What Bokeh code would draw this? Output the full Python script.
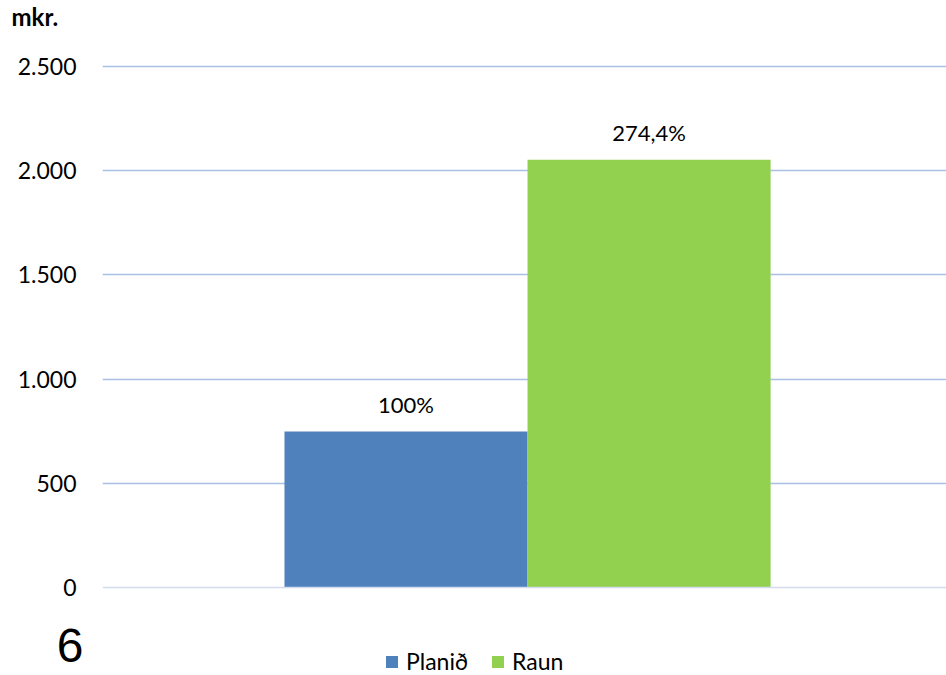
from bokeh.plotting import figure
from bokeh.models import (FactorRange, Range1d, FixedTicker, Legend, LegendItem,
                          Label, ColumnDataSource, Span, LinearAxis)
from bokeh.transform import dodge
from bokeh.embed import file_html
from bokeh.resources import INLINE
from bokeh.core.properties import value

categories = ["6"]
series = ["Planið", "Raun"]
plan_values = [748]
raun_values = [2052]
plan_labels = ["100%"]
raun_labels = ["274,4%"]
y_ticks = [0, 500, 1000, 1500, 2000, 2500]
y_tick_labels = ["0", "500", "1.000", "1.500", "2.000", "2.500"]
unit_label = "mkr."

colors = ["#4F81BD", "#92D050"]
FONT = "Lato"

TOP = 40                      # frame top in canvas px (below the "mkr." panel)
px_per_unit = (587 - 66) / 2500
y_lo = -(675 - 587) / px_per_unit
y_hi = 2500 + (66 - TOP) / px_per_unit
cat_label_y = -(645 - 587) / px_per_unit   # vertical place of the category label

src = ColumnDataSource(dict(cat=categories, plan=plan_values, raun=raun_values,
                            plan_lbl=plan_labels, raun_lbl=raun_labels))

p = figure(width=946, height=675, x_range=FactorRange(factors=categories, range_padding=0),
           y_range=Range1d(y_lo, y_hi), output_backend="svg", toolbar_location=None,
           min_border_left=102, min_border_right=0, min_border_top=TOP, min_border_bottom=0)
p.outline_line_color = None
p.xgrid.grid_line_color = None
p.xaxis.visible = False

ya = p.yaxis[0]
ya.ticker = FixedTicker(ticks=y_ticks)
ya.major_label_overrides = {t: l for t, l in zip(y_ticks, y_tick_labels)}
ya.axis_line_color = None
ya.major_tick_line_color = None
ya.minor_tick_line_color = None
ya.major_tick_out = 0
ya.major_tick_in = 0
ya.minor_tick_out = 0
ya.major_label_standoff = 26
ya.major_label_text_font = FONT
ya.major_label_text_font_size = "23px"
ya.major_label_text_color = "#000000"

cat_axis = LinearAxis(ticker=FixedTicker(ticks=[cat_label_y]),
                      major_label_overrides={cat_label_y: categories[0]},
                      axis_line_color=None, major_tick_line_color=None,
                      minor_tick_line_color=None, major_tick_out=0, major_tick_in=0,
                      minor_tick_out=0, major_label_standoff=-69,
                      major_label_text_font="Liberation Sans",
                      major_label_text_font_size="48px", major_label_text_color="#000000")
p.add_layout(cat_axis, "left")

p.ygrid.ticker = FixedTicker(ticks=y_ticks[1:])
p.ygrid.grid_line_color = "#A9BFE3"
p.ygrid.grid_line_width = 1.3

p.add_layout(Span(location=0, dimension="width", line_color="#D3DBEE", line_width=1.6))

w = 0.288
offs = [-w / 2 + 0.0036, w / 2 + 0.0036]
r1 = p.vbar(x=dodge("cat", offs[0], range=p.x_range), top="plan", width=w, source=src,
            fill_color=colors[0], line_color=None)
r2 = p.vbar(x=dodge("cat", offs[1], range=p.x_range), top="raun", width=w, source=src,
            fill_color=colors[1], line_color=None)

for col, lbl, off in [("plan", "plan_lbl", offs[0]), ("raun", "raun_lbl", offs[1])]:
    p.text(x=dodge("cat", off, range=p.x_range), y=col, text=lbl, source=src,
           text_align="center", text_baseline="middle", y_offset=-27,
           text_font=value(FONT), text_font_size="22px", text_color="#000000")

p.add_layout(Label(x=-91, y=24, x_units="screen", y_units="screen", text=unit_label,
                   text_font=FONT, text_font_style="bold", text_font_size="24px",
                   text_baseline="alphabetic", text_color="#000000"), "above")

legend = Legend(items=[LegendItem(label=series[0], renderers=[r1]),
                       LegendItem(label=series[1], renderers=[r2])],
                orientation="horizontal", location=(282, 0),
                glyph_width=15, glyph_height=15, label_standoff=7, spacing=22,
                padding=0, margin=0, border_line_color=None, background_fill_alpha=0,
                label_text_line_height=1.0,
                label_text_font=FONT, label_text_font_size="23px", label_text_color="#000000")
p.add_layout(legend, "center")

open("out.html", "w").write(file_html(p, INLINE))
